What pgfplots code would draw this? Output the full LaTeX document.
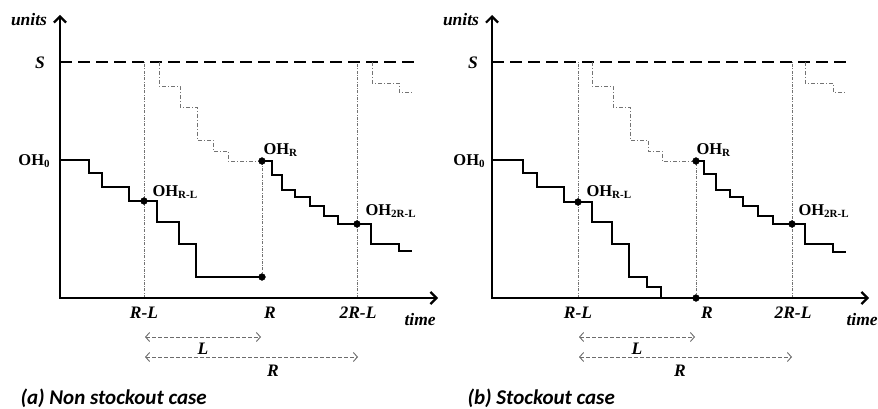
\documentclass[border=0pt]{standalone}
\usepackage{fontspec}
\setmainfont{Liberation Serif}
\newfontfamily\capfont{Carlito}
\usepackage{pgfplots}
\pgfplotsset{compat=1.18}
\usetikzlibrary{arrows.meta}
\newcommand{\lab}{\bfseries\itshape\fontsize{17.5}{17.5}\selectfont}
\newcommand{\OH}[1]{{\bfseries\fontsize{16.5}{16.5}\selectfont OH\raisebox{-0.35ex}{\fontsize{11}{11}\selectfont #1}}}
\begin{document}
\begin{tikzpicture}
\begin{axis}[scale only axis, width=878pt, height=409pt,
  xmin=0, xmax=878, ymin=0, ymax=409, y dir=reverse,
  axis lines=none, clip=false,
  solidstep/.style={black, line width=1.9pt},
  sline/.style={black, line width=1.9pt, dash pattern=on 12pt off 6pt},
  axarrow/.style={black, line width=2.6pt, -{Straight Barb[length=6pt,width=12pt,line width=2.2pt]}},
  vdot/.style={gray!90!black, line width=0.6pt, dash pattern=on 3pt off 1.5pt on 0.6pt off 1.5pt},
  pipe/.style={gray!90!black, line width=0.9pt, dash pattern=on 4pt off 2pt on 1pt off 2pt},
  dim/.style={gray!85!black, line width=0.9pt, dash pattern=on 4pt off 2pt, {Straight Barb[length=4pt,width=9pt]}-{Straight Barb[length=4pt,width=9pt]}},
  dots/.style={only marks, mark=*, mark size=3.4pt, black}]
% ===== Panel (a) =====
\addplot[vdot] coordinates {(144,298) (144,62)};
\addplot[vdot] coordinates {(357,298) (357,62)};
\addplot[vdot] coordinates {(262,277) (262,161)};
\addplot[sline] coordinates {(60,62) (415,62)};
\addplot[pipe] coordinates {(159,62) (159,86) (180,86) (180,107) (197,107) (197,140) (213,140) (213,151) (228,151) (228,161) (262,161)};
\addplot[pipe] coordinates {(372,62) (372,83) (399,83) (399,92) (412,92)};
\addplot[solidstep] coordinates {(60,160) (89,160) (89,173) (102,173) (102,187) (129,187) (129,201) (157,201) (157,222) (179,222) (179,244) (196,244) (196,277) (262,277)};
\addplot[solidstep] coordinates {(262,161) (272,161) (272,175) (282,175) (282,190) (295,190) (295,197) (310,197) (310,206) (324,206) (324,216) (338,216) (338,224) (371,224) (371,244) (399,244) (399,251) (412,251)};
\addplot[axarrow] coordinates {(60,298) (60,15)};
\addplot[axarrow] coordinates {(59,298) (438,298)};
\addplot[dots] coordinates {(144,201) (262,277) (262,161) (357,224)};
\addplot[dim] coordinates {(145,337) (261,337)};
\addplot[dim] coordinates {(145,357) (358,357)};
\node[font=\lab] at (axis cs:29,20) {units};
\node[font=\lab] at (axis cs:40,63) {S};
\node at (axis cs:34,161) {\OH{0}};
\node[anchor=west] at (axis cs:149,192) {\OH{R-L}};
\node[anchor=west] at (axis cs:260,150) {\OH{R}};
\node[anchor=west] at (axis cs:362,211) {\OH{2R-L}};
\node[font=\lab] at (axis cs:144,313) {R-L};
\node[font=\lab] at (axis cs:270,313) {R};
\node[font=\lab] at (axis cs:358,313) {2R-L};
\node[font=\lab, anchor=west] at (axis cs:401,320) {time};
\node[font=\lab] at (axis cs:203,349) {L};
\node[font=\lab] at (axis cs:273,371) {R};
\node[anchor=west, font=\capfont\bfseries\itshape\fontsize{21}{21}\selectfont] at (axis cs:17,398) {(a) Non stockout case};
% ===== Panel (b) =====
\addplot[vdot] coordinates {(578,298) (578,62)};
\addplot[vdot] coordinates {(792,298) (792,62)};
\addplot[vdot] coordinates {(696,298) (696,161)};
\addplot[sline] coordinates {(492,62) (848,62)};
\addplot[pipe] coordinates {(592,62) (592,86) (613,86) (613,107) (630,107) (630,140) (648,140) (648,151) (662,151) (662,161) (696,161)};
\addplot[pipe] coordinates {(805,62) (805,83) (833,83) (833,92) (846,92)};
\addplot[solidstep] coordinates {(492,160) (523,160) (523,173) (537,173) (537,187) (564,187) (564,202) (592,202) (592,222) (612,222) (612,244) (629,244) (629,277) (647,277) (647,287) (661,287) (661,298)};
\addplot[solidstep] coordinates {(696,161) (704,161) (704,174) (716,174) (716,190) (730,190) (730,197) (743,197) (743,206) (758,206) (758,216) (773,216) (773,224) (805,224) (805,244) (833,244) (833,252) (846,252)};
\addplot[axarrow] coordinates {(492,298) (492,15)};
\addplot[axarrow] coordinates {(491,298) (869,298)};
\addplot[dots] coordinates {(578,202) (696,161) (696,298) (792,224)};
\addplot[dim] coordinates {(579,337) (695,337)};
\addplot[dim] coordinates {(579,357) (792,357)};
\node[font=\lab] at (axis cs:461,20) {units};
\node[font=\lab] at (axis cs:473,63) {S};
\node at (axis cs:469,161) {\OH{0}};
\node[anchor=west] at (axis cs:583,192) {\OH{R-L}};
\node[anchor=west] at (axis cs:693,150) {\OH{R}};
\node[anchor=west] at (axis cs:795,211) {\OH{2R-L}};
\node[font=\lab] at (axis cs:578,313) {R-L};
\node[font=\lab] at (axis cs:707,313) {R};
\node[font=\lab] at (axis cs:793,313) {2R-L};
\node[font=\lab, anchor=west] at (axis cs:843,320) {time};
\node[font=\lab] at (axis cs:637,349) {L};
\node[font=\lab] at (axis cs:680,371) {R};
\node[anchor=west, font=\capfont\bfseries\itshape\fontsize{21}{21}\selectfont] at (axis cs:464,398) {(b) Stockout case};
\end{axis}
\pgfresetboundingbox
\path (current axis.south west) rectangle (current axis.north east);
\end{tikzpicture}
\end{document}
